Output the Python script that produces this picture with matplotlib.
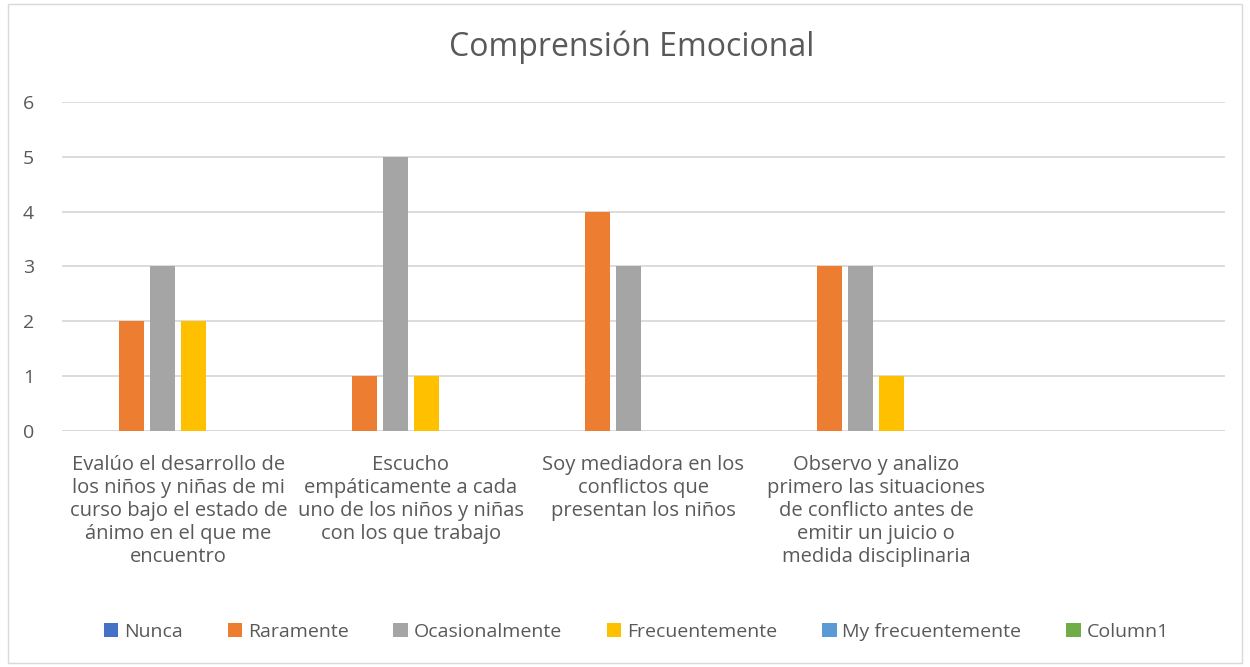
import matplotlib.pyplot as plt
import numpy as np
from matplotlib.patches import Rectangle

plt.rcParams['font.family'] = ['Open Sans', 'DejaVu Sans']

categories = [
    "Evalúo el desarrollo de\nlos niños y niñas de mi\ncurso bajo el estado de\nánimo en el que me\nencuentro",
    "Escucho\nempáticamente a cada\nuno de los niños y niñas\ncon los que trabajo",
    "Soy mediadora en los\nconflictos que\npresentan los niños",
    "Observo y analizo\nprimero las situaciones\nde conflicto antes de\nemitir un juicio o\nmedida disciplinaria",
    "",
]
series_names = ["Nunca", "Raramente", "Ocasionalmente", "Frecuentemente",
                "My frecuentemente", "Column1"]
nunca = [0, 0, 0, 0, 0]
raramente = [2, 1, 4, 3, 0]
ocasionalmente = [3, 5, 3, 3, 0]
frecuentemente = [2, 1, 0, 1, 0]
my_frecuentemente = [0, 0, 0, 0, 0]
column1 = [0, 0, 0, 0, 0]
values = [nunca, raramente, ocasionalmente, frecuentemente, my_frecuentemente, column1]
colors = ["#4472C4", "#ED7D31", "#A5A5A5", "#FFC000", "#5B9BD5", "#70AD47"]

fig = plt.figure(figsize=(12.5, 6.67), dpi=100)
ax = fig.add_axes([62 / 1250, 1 - 431 / 667, (1225 - 62) / 1250, (431 - 102) / 667])

x = np.arange(len(categories))
step = 31 / 233
width = 25 / 233
for i, (name, vals, c) in enumerate(zip(series_names, values, colors)):
    ax.bar(x + (i - 2.5) * step, vals, width, color=c, label=name, zorder=3)

ax.set_xlim(-0.5, len(categories) - 0.5)
ax.set_ylim(0, 6)
ax.set_yticks(range(7))
ax.yaxis.grid(True, color="#D9D9D9", linewidth=1.3, zorder=0)
for s in ax.spines.values():
    s.set_visible(False)
ax.axhline(0, color="#D9D9D9", linewidth=1.3, zorder=1)
ax.tick_params(axis="both", length=0, labelcolor="#595959", labelsize=14)
ax.tick_params(axis="y", pad=20)
ax.set_xticks(x)
ax.set_xticklabels(categories, fontsize=14.5, linespacing=1.2, color="#595959")
ax.tick_params(axis="x", pad=17)

fig.text(0.505, 1 - 47 / 667, "Comprensión Emocional", ha="center", va="center",
         fontsize=23, color="#595959")

handles, labels = ax.get_legend_handles_labels()
fig.legend(handles, labels, loc="center", bbox_to_anchor=(0.509, 1 - 632 / 667),
           ncol=6, frameon=False, fontsize=14, handlelength=0.75, handleheight=0.75,
           handletextpad=0.3, columnspacing=2.3, labelcolor="#595959")

fig.patches.append(Rectangle((8 / 1250, 4 / 667), 1234 / 1250, 659 / 667,
                             transform=fig.transFigure, fill=False,
                             edgecolor="#D9D9D9", linewidth=1))

fig.savefig("out.png", dpi=100)
